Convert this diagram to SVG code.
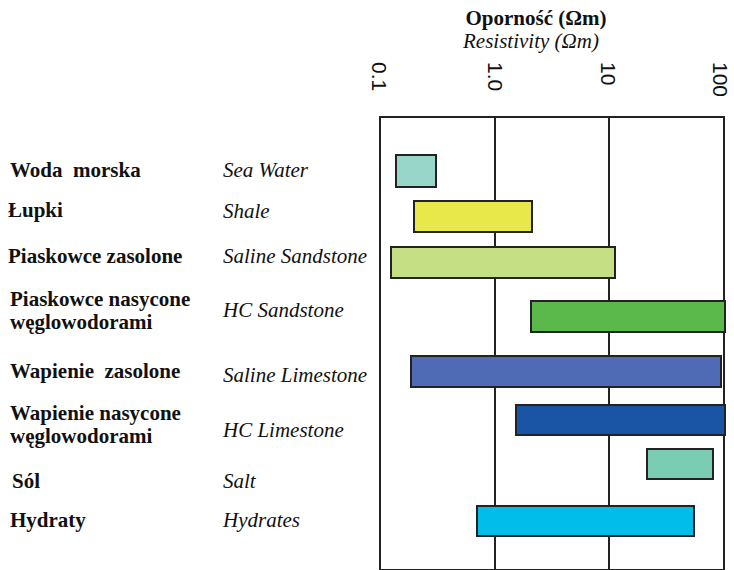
<svg xmlns="http://www.w3.org/2000/svg" width="734" height="570" viewBox="0 0 734 570">
<style>
.pl{font-family:"Liberation Serif","Times New Roman",serif;font-weight:bold;font-size:21px;fill:#111}
.en{font-family:"Liberation Serif","Times New Roman",serif;font-style:italic;font-size:21px;fill:#111}
.ax{font-family:"Liberation Sans",Arial,sans-serif;font-size:21px;fill:#111}
.bar{stroke:#222;stroke-width:2}
.grid{stroke:#222;stroke-width:2;fill:none}
</style>
<rect width="734" height="570" fill="#ffffff"/>
<g id="title">
<text x="536" y="25" text-anchor="middle" class="pl">Oporność (Ωm)</text>
<text x="531" y="48" text-anchor="middle" class="en">Resistivity (Ωm)</text>
</g>
<g id="axis-labels">
<text class="ax" transform="translate(372,62) rotate(90)">0.1</text>
<text class="ax" transform="translate(488,62) rotate(90)">1.0</text>
<text class="ax" transform="translate(601,62) rotate(90)">10</text>
<text class="ax" transform="translate(713,62) rotate(90)">100</text>
</g>
<g id="panel">
<rect x="380" y="117" width="344" height="453" fill="#dcdddd" class="grid"/>
<line x1="495" y1="117" x2="495" y2="570" class="grid"/>
<line x1="609" y1="117" x2="609" y2="570" class="grid"/>
</g>
<g id="sea-water">
<text x="10" y="177" class="pl" xml:space="preserve">Woda  morska</text>
<text x="223" y="177" class="en">Sea Water</text>
<rect x="396" y="155" width="40" height="32" fill="#98d6c9" class="bar"/>
</g>
<g id="shale">
<text x="8" y="217" class="pl">Łupki</text>
<text x="223" y="218" class="en">Shale</text>
<rect x="414" y="201" width="118" height="31" fill="#e8e84a" class="bar"/>
</g>
<g id="saline-sandstone">
<text x="8" y="263" class="pl">Piaskowce zasolone</text>
<text x="223" y="263" class="en">Saline Sandstone</text>
<rect x="391" y="247" width="224" height="31" fill="#c5df85" class="bar"/>
</g>
<g id="hc-sandstone">
<text x="10" y="306" class="pl">Piaskowce nasycone</text>
<text x="10" y="329" class="pl">węglowodorami</text>
<text x="223" y="317" class="en">HC Sandstone</text>
<rect x="531" y="301" width="194" height="31" fill="#5ab94a" class="bar"/>
</g>
<g id="saline-limestone">
<text x="10" y="378" class="pl" xml:space="preserve">Wapienie  zasolone</text>
<text x="223" y="382" class="en">Saline Limestone</text>
<rect x="411" y="356" width="310" height="31" fill="#4f6bb5" class="bar"/>
</g>
<g id="hc-limestone">
<text x="10" y="420" class="pl">Wapienie nasycone</text>
<text x="10" y="443" class="pl">węglowodorami</text>
<text x="223" y="437" class="en">HC Limestone</text>
<rect x="516" y="405" width="209" height="30" fill="#1a55a5" class="bar"/>
</g>
<g id="salt">
<text x="12" y="488" class="pl">Sól</text>
<text x="223" y="488" class="en">Salt</text>
<rect x="647" y="449" width="66" height="30" fill="#7accb2" class="bar"/>
</g>
<g id="hydrates">
<text x="10" y="527" class="pl">Hydraty</text>
<text x="223" y="527" class="en">Hydrates</text>
<rect x="477" y="506" width="217" height="30" fill="#00bde9" class="bar"/>
</g>
</svg>
